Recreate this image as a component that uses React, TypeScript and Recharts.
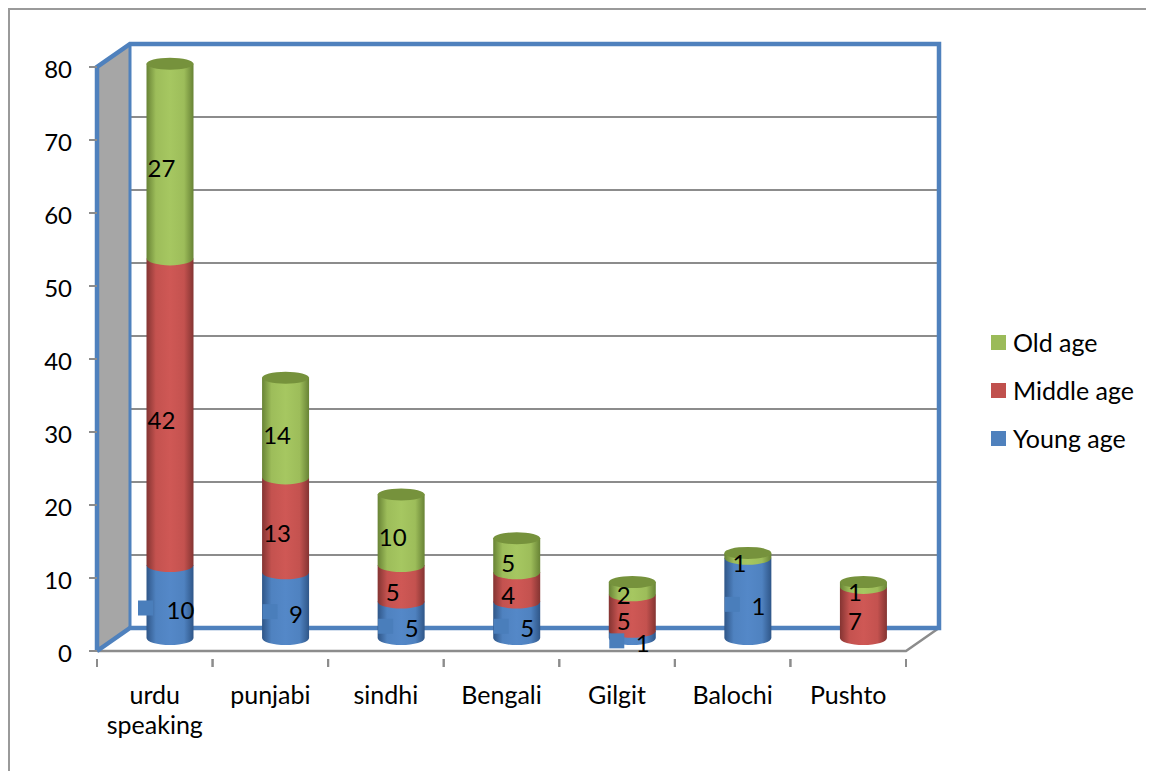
import { Bar, BarChart, CartesianGrid, LabelList, Legend, ReferenceArea, XAxis, YAxis } from "recharts"

const categories = ["urdu speaking", "punjabi", "sindhi", "Bengali", "Gilgit", "Balochi", "Pushto"]
const youngAge = [10, 9, 5, 5, 1, 11, 0]
const middleAge = [42, 13, 5, 4, 5, 0, 7]
const oldAge = [27, 14, 10, 5, 2, 1, 1]
// printed labels, the Balochi one reads 1 on a taller segment
const youngLabels = [10, 9, 5, 5, 1, 1, null]
const middleLabels = [42, 13, 5, 4, 5, null, 7]
const oldLabels = [27, 14, 10, 5, 2, 1, 1]
const yTicks = [0, 10, 20, 30, 40, 50, 60, 70, 80]
const legendItems = [
  { name: "Old age", color: "#9BBB59" },
  { name: "Middle age", color: "#C0504D" },
  { name: "Young age", color: "#4F81BD" },
]

const data = categories.map((name, i) => ({
  name,
  young: youngAge[i],
  middle: middleAge[i],
  old: oldAge[i],
  youngLabel: youngLabels[i],
  middleLabel: middleLabels[i],
  oldLabel: oldLabels[i],
}))

const FONT = "Lato, 'Open Sans', sans-serif"
const BLUE = "#4F81BD"
const GRAY = "#8C8C8C"
const DEPTH_X = 33
const DEPTH_Y = 23
const PLOT_WIDTH = 809
const PLOT_HEIGHT = 584
const PLOT_TOP = 59
const BAND = PLOT_WIDTH / categories.length
const BAR_DX = 15.5
const BAR_DY = -13
const RY = 7

function Cylinder({ x, y, width, height, gradient, cap }: any) {
  if (!height || height <= 0) return null
  const left = x + BAR_DX
  const right = left + width
  // the cap sits a little below the value line, as in the picture
  const top = y + BAR_DY + (cap ? 2.5 : 0)
  const bottom = y + BAR_DY + height
  const rx = width / 2
  return (
    <g>
      <path
        d={`M${left} ${top} L${left} ${bottom} A${rx} ${RY} 0 0 0 ${right} ${bottom} L${right} ${top} Z`}
        fill={`url(#${gradient})`}
      />
      {cap && <ellipse cx={left + rx} cy={top} rx={rx} ry={6} fill={cap} />}
    </g>
  )
}

function SegmentLabel({ x, y, width, height, value }: any) {
  if (value === null || value === undefined) return null
  return (
    <text x={x + width / 2 + 7} y={y + height / 2 - 5} textAnchor="middle" dominantBaseline="central" fontSize={24} fontFamily={FONT} fill="#000">
      {value}
    </text>
  )
}

// young age labels have the legend key printed beside them
function KeyedLabel({ x, y, width, height, value }: any) {
  if (value === null || value === undefined) return null
  const textX = x + width / 2 + 26
  const keyX = textX - 17 - 9 * String(value).length
  const cy = y + height / 2 - 5
  return (
    <g>
      <rect x={keyX - 7.5} y={cy - 9} width={15} height={15} fill="#4A7EBB" />
      <text x={textX} y={cy} textAnchor="middle" dominantBaseline="central" fontSize={24} fontFamily={FONT} fill="#000">
        {value}
      </text>
    </g>
  )
}

function Walls({ x, y, width, height }: any) {
  const bottom = y + height
  const right = x + width
  return (
    <g>
      <polygon points={`${x},${y} ${x + DEPTH_X},${y - DEPTH_Y} ${x + DEPTH_X},${bottom - DEPTH_Y} ${x},${bottom}`} fill="#A6A6A6" />
      <path d={`M${x} ${bottom} L${right} ${bottom} L${right + DEPTH_X} ${bottom - DEPTH_Y}`} fill="none" stroke={GRAY} strokeWidth={2.5} />
      <path d={`M${x + DEPTH_X} ${y - DEPTH_Y} L${x + DEPTH_X} ${bottom - DEPTH_Y}`} fill="none" stroke={BLUE} strokeWidth={3} />
      <path
        d={`M${x} ${bottom} L${x} ${y} L${x + DEPTH_X} ${y - DEPTH_Y} L${right + DEPTH_X} ${y - DEPTH_Y} L${right + DEPTH_X} ${bottom - DEPTH_Y} L${x + DEPTH_X} ${bottom - DEPTH_Y} L${x} ${bottom}`}
        fill="none"
        stroke={BLUE}
        strokeWidth={4.5}
      />
    </g>
  )
}

function GridLine({ x1, y1, x2 }: any) {
  if (y1 <= PLOT_TOP + 1 || y1 >= PLOT_TOP + PLOT_HEIGHT - 1) return null
  return (
    <path
      d={`M${x1} ${y1} L${x1 + DEPTH_X} ${y1 - DEPTH_Y} L${x2 + DEPTH_X} ${y1 - DEPTH_Y}`}
      fill="none"
      stroke={GRAY}
      strokeWidth={2}
    />
  )
}

function CategoryTick({ x, y, payload }: any) {
  const lines = String(payload.value).split(" ")
  return (
    <g>
      <path
        d={`M${x - BAND / 2} ${y} V${y + 8} M${x + BAND / 2} ${y} V${y + 8}`}
        stroke={GRAY}
        strokeWidth={2}
        fill="none"
      />
      <text textAnchor="middle" fontSize={25} fontFamily={FONT} fill="#000">
        {lines.map((line, i) => (
          <tspan key={line} x={x} y={y + 45 + i * 30}>
            {line}
          </tspan>
        ))}
      </text>
    </g>
  )
}

function LegendBox() {
  return (
    <div style={{ fontFamily: FONT, fontSize: 25, color: "#000" }}>
      {legendItems.map((item) => (
        <div key={item.name} style={{ display: "flex", alignItems: "center", height: 48 }}>
          <span style={{ width: 15, height: 15, background: item.color, marginRight: 7 }} />
          {item.name}
        </div>
      ))}
    </div>
  )
}

export default function App() {
  return (
    <div
      style={{
        position: "relative",
        width: 1146,
        height: 763,
        boxSizing: "border-box",
        borderTop: "2px solid #9A9A9A",
        borderLeft: "2px solid #9A9A9A",
      }}
    >
      <div style={{ position: "absolute", left: -2, top: -2 }}>
        <BarChart
          width={1146}
          height={763}
          data={data}
          barSize={47}
          margin={{ top: PLOT_TOP, right: 248, left: 29, bottom: 60 }}
        >
          <defs>
            {[
              ["gradYoung", "#2F5688", "#4F82C0", "#5488C8"],
              ["gradMiddle", "#843432", "#C4524F", "#CF5855"],
              ["gradOld", "#688335", "#9DBD5A", "#A6C761"],
            ].map(([id, edge, side, mid]) => (
              <linearGradient key={id} id={id} x1="0" y1="0" x2="1" y2="0">
                <stop offset="0%" stopColor={edge} />
                <stop offset="20%" stopColor={side} />
                <stop offset="50%" stopColor={mid} />
                <stop offset="80%" stopColor={side} />
                <stop offset="100%" stopColor={edge} />
              </linearGradient>
            ))}
          </defs>
          <ReferenceArea y1={0} y2={80} shape={<Walls />} fill="none" ifOverflow="visible" />
          <CartesianGrid vertical={false} horizontal={(props: any) => <GridLine key={props.key} {...props} />} />
          <XAxis dataKey="name" axisLine={false} tickLine={false} interval={0} height={60} tick={<CategoryTick />} />
          <YAxis
            domain={[0, 80]}
            ticks={yTicks}
            width={60}
            interval={0}
            axisLine={false}
            tickSize={8}
            tickMargin={17}
            tickLine={{ stroke: GRAY, strokeWidth: 2 }}
            tick={{ fontSize: 24, fontFamily: FONT, fill: "#000", dy: 2 }}
          />
          <Legend
            layout="vertical"
            align="center"
            verticalAlign="middle"
            width={170}
            height={144}
            wrapperStyle={{ left: 983, top: 310 }}
            content={<LegendBox />}
          />
          <Bar dataKey="young" stackId="a" isAnimationActive={false} shape={<Cylinder gradient="gradYoung" />}>
            <LabelList dataKey="youngLabel" content={<KeyedLabel />} zIndex={3000} />
          </Bar>
          <Bar dataKey="middle" stackId="a" isAnimationActive={false} shape={<Cylinder gradient="gradMiddle" />}>
            <LabelList dataKey="middleLabel" content={<SegmentLabel />} />
          </Bar>
          <Bar dataKey="old" stackId="a" isAnimationActive={false} shape={<Cylinder gradient="gradOld" cap="#76923C" />}>
            <LabelList dataKey="oldLabel" content={<SegmentLabel />} />
          </Bar>
        </BarChart>
      </div>
    </div>
  )
}
